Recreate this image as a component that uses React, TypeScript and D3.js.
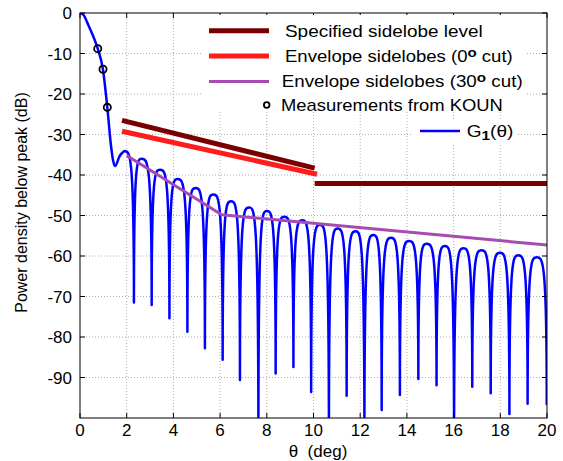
import React from "react";
import * as d3 from "d3";

const W = 563;
const H = 461;
const PL = 80, PR = 547, PT = 13, PB = 418;
const FONT = "'Liberation Sans', Arial, Helvetica, sans-serif";

// Main beam of G1(theta)
const mainLobeTheta = [0, 0.15, 0.36, 0.57, 0.76, 0.985, 1.17, 1.33, 1.42, 1.5, 1.7, 1.9];
const mainLobeDb = [0, -0.5, -3, -5.8, -8.8, -14, -23.3, -32.9, -36.5, -37.8, -35.3, -34.1];

// Sidelobe peaks (first one is the end of the main-lobe trace)
const peakTheta = [1.9, 2.64, 3.43, 4.18, 4.95, 5.71, 6.47, 7.24, 8.0, 8.75, 9.52, 10.28, 11.03, 11.8, 12.56, 13.32, 14.09, 14.85, 15.63, 16.42, 17.2, 17.99, 18.77, 19.56];
const peakDb = [-34.1, -36.0, -38.7, -41.0, -43.2, -44.8, -46.5, -48.0, -48.9, -50.3, -51.2, -52.3, -53.2, -53.9, -54.8, -55.5, -56.3, -57.0, -57.5, -58.1, -58.6, -59.2, -59.8, -60.3];

// Nulls between sidelobes
const nullTheta = [2.31, 3.07, 3.83, 4.6, 5.35, 6.11, 6.85, 7.64, 8.38, 9.14, 9.9, 10.66, 11.42, 12.18, 12.92, 13.7, 14.49, 15.27, 16.02, 16.8, 17.59, 18.39, 19.17, 19.99];
const nullDb = [-71.5, -72.1, -75.4, -78.7, -82.8, -85.6, -90.6, -106, -89.0, -87.4, -93.6, -106, -94.5, -106, -98.0, -94.3, -90.4, -91.9, -106, -92.3, -93.9, -99.0, -96.5, -96.8];

// Measurements from KOUN
const measTheta = [0.76, 0.985, 1.17];
const measDb = [-8.8, -13.9, -23.3];

// Envelopes
const specTheta = [1.8, 10.05, NaN, 10.05, 20];
const specDb = [-26.5, -38.3, NaN, -42.1, -42.1];
const env0Theta = [1.8, 10.15];
const env0Db = [-29.2, -39.8];
const env30Theta = [2.0, 6.07, 20];
const env30Db = [-35.2, -49.8, -57.3];

const xTicks = [0, 2, 4, 6, 8, 10, 12, 14, 16, 18, 20];
const yTicks = [0, -10, -20, -30, -40, -50, -60, -70, -80, -90];

const C_SPEC = "#7a0000";
const C_ENV0 = "#ff1c1c";
const C_ENV30 = "#a64cb0";
const C_G = "#0000ff";

export default function App() {
  const ref = React.useRef<SVGSVGElement>(null);

  React.useEffect(() => {
    const svg = d3.select(ref.current as SVGSVGElement);
    svg.selectAll("*").remove();

    const x = d3.scaleLinear().domain([0, 20]).range([PL, PR]);
    const y = d3.scaleLinear().domain([-100, 0]).range([PB, PT]);

    svg.append("rect").attr("width", W).attr("height", H).attr("fill", "#fff");

    svg.append("defs").append("clipPath").attr("id", "plotclip")
      .append("rect").attr("x", PL).attr("y", PT).attr("width", PR - PL).attr("height", PB - PT);

    // grid
    const grid = svg.append("g").attr("stroke", "#9a9a9a").attr("stroke-width", 0.8).attr("stroke-dasharray", "1,2");
    xTicks.slice(1, -1).forEach((t) => {
      grid.append("line").attr("x1", x(t)).attr("x2", x(t)).attr("y1", PT).attr("y2", PB);
    });
    yTicks.slice(1).forEach((t) => {
      grid.append("line").attr("x1", PL).attr("x2", PR).attr("y1", y(t)).attr("y2", y(t));
    });

    const plot = svg.append("g").attr("clip-path", "url(#plotclip)");

    // G1 curve: main lobe, then sidelobes arching between the read nulls and peaks
    const mainPts: [number, number][] = mainLobeTheta.map((t, i) => [x(t), y(mainLobeDb[i])]);
    const mainPath = d3.line().curve(d3.curveMonotoneX)(mainPts) as string;
    const p = d3.path();
    const K = 0.4;
    for (let i = 0; i < nullTheta.length; i++) {
      const px = x(peakTheta[i]), py = y(peakDb[i]);
      const nx = x(nullTheta[i]), ny = y(nullDb[i]);
      if (i === 0) p.moveTo(px, py);
      p.bezierCurveTo(px + (nx - px) * (1 - K), py, nx, py, nx, ny);
      if (i + 1 < peakTheta.length) {
        const qx = x(peakTheta[i + 1]), qy = y(peakDb[i + 1]);
        p.bezierCurveTo(nx, qy, nx + (qx - nx) * K, qy, qx, qy);
      }
    }
    plot.append("path").attr("d", mainPath + p.toString().replace(/^M/, "L"))
      .attr("fill", "none").attr("stroke", C_G).attr("stroke-width", 2.5).attr("stroke-linejoin", "round");

    // envelopes
    const lineGen = d3.line<number>()
      .defined((_, i) => !isNaN(specTheta[i]))
      .x((t) => x(t)).y((_, i) => y(specDb[i]));
    plot.append("path").attr("d", lineGen(specTheta) as string)
      .attr("fill", "none").attr("stroke", C_SPEC).attr("stroke-width", 5);
    const lg0 = d3.line<number>().x((t) => x(t)).y((_, i) => y(env0Db[i]));
    plot.append("path").attr("d", lg0(env0Theta) as string)
      .attr("fill", "none").attr("stroke", C_ENV0).attr("stroke-width", 5);
    const lg30 = d3.line<number>().x((t) => x(t)).y((_, i) => y(env30Db[i]));
    plot.append("path").attr("d", lg30(env30Theta) as string)
      .attr("fill", "none").attr("stroke", C_ENV30).attr("stroke-width", 3).attr("stroke-linejoin", "round");

    // measurements
    plot.selectAll("circle.m").data(measTheta).enter().append("circle")
      .attr("cx", (t) => x(t)).attr("cy", (_, i) => y(measDb[i])).attr("r", 3.6)
      .attr("fill", "none").attr("stroke", "#000").attr("stroke-width", 1.8);

    // frame and ticks
    const ax = svg.append("g").attr("stroke", "#000").attr("stroke-width", 1);
    ax.append("rect").attr("x", PL).attr("y", PT).attr("width", PR - PL).attr("height", PB - PT).attr("fill", "none");
    xTicks.forEach((t) => {
      ax.append("line").attr("x1", x(t)).attr("x2", x(t)).attr("y1", PB).attr("y2", PB - 5);
      ax.append("line").attr("x1", x(t)).attr("x2", x(t)).attr("y1", PT).attr("y2", PT + 5);
    });
    yTicks.forEach((t) => {
      ax.append("line").attr("y1", y(t)).attr("y2", y(t)).attr("x1", PL).attr("x2", PL + 5);
      ax.append("line").attr("y1", y(t)).attr("y2", y(t)).attr("x1", PR).attr("x2", PR - 5);
    });

    const txt = svg.append("g").attr("font-family", FONT).attr("fill", "#000");
    xTicks.forEach((t) => {
      txt.append("text").attr("x", x(t)).attr("y", 436).attr("text-anchor", "middle").attr("font-size", 17).text(String(t));
    });
    yTicks.forEach((t) => {
      txt.append("text").attr("x", 72).attr("y", y(t) + 6).attr("text-anchor", "end").attr("font-size", 17).text(String(t));
    });
    const xt = txt.append("text").attr("x", 318).attr("y", 457).attr("text-anchor", "middle").attr("font-size", 17);
    xt.text("\u03b8  (deg)").attr("xml:space", "preserve").style("white-space", "pre");
    txt.append("text").attr("transform", "translate(27,202.5) rotate(-90)").attr("text-anchor", "middle")
      .attr("font-size", 16).text("Power density below peak (dB)");

    // legend
    const leg = svg.append("g");
    leg.append("rect").attr("x", 203).attr("y", 15).attr("width", 324).attr("height", 97).attr("fill", "#fff");
    leg.append("rect").attr("x", 413).attr("y", 120).attr("width", 103).attr("height", 24).attr("fill", "#fff");

    const fit = (sel: any, tx: number, ty: number, w: number) => {
      const bb = (sel.node() as SVGTextElement).getBBox();
      const k = w / bb.width;
      sel.attr("transform", `translate(${tx},${ty}) scale(${k},1)`);
    };

    leg.append("line").attr("x1", 209).attr("x2", 269).attr("y1", 30.7).attr("y2", 30.7).attr("stroke", C_SPEC).attr("stroke-width", 5);
    leg.append("line").attr("x1", 209).attr("x2", 269).attr("y1", 56).attr("y2", 56).attr("stroke", C_ENV0).attr("stroke-width", 5);
    leg.append("line").attr("x1", 209).attr("x2", 269).attr("y1", 81.5).attr("y2", 81.5).attr("stroke", C_ENV30).attr("stroke-width", 3);
    leg.append("circle").attr("cx", 266.7).attr("cy", 105).attr("r", 2.8).attr("fill", "none").attr("stroke", "#000").attr("stroke-width", 1.8);
    leg.append("line").attr("x1", 420).attr("x2", 460).attr("y1", 131).attr("y2", 131).attr("stroke", C_G).attr("stroke-width", 2.5);

    const mk = () => leg.append("text").attr("font-family", FONT).attr("font-size", 16).attr("x", 0).attr("y", 0) as any;

    const t1 = mk(); t1.text("Specified sidelobe level"); fit(t1, 285, 36.5, 198);
    const t2 = mk();
    t2.append("tspan").text("Envelope sidelobes (0");
    t2.append("tspan").attr("font-size", 13).attr("font-weight", "bold").attr("dy", -5).text("o");
    t2.append("tspan").attr("dy", 5).text(" cut)");
    fit(t2, 285, 61.8, 228);
    const t3 = mk();
    t3.append("tspan").text("Envelope sidelobes (30");
    t3.append("tspan").attr("font-size", 13).attr("font-weight", "bold").attr("dy", -5).text("o");
    t3.append("tspan").attr("dy", 5).text(" cut)");
    fit(t3, 281.7, 87.4, 241);
    const t4 = mk(); t4.text("Measurements from KOUN"); fit(t4, 281, 110.8, 222);
    const t5 = mk();
    t5.append("tspan").text("G");
    t5.append("tspan").attr("font-size", 13).attr("font-weight", "bold").attr("dy", 3).text("1");
    t5.append("tspan").attr("dy", -3).text("(\u03b8)");
    fit(t5, 466.7, 136.5, 46.7);
  }, []);

  return (
    <svg ref={ref} width={W} height={H} style={{ position: "absolute", left: 0, top: 0, display: "block" }} />
  );
}
